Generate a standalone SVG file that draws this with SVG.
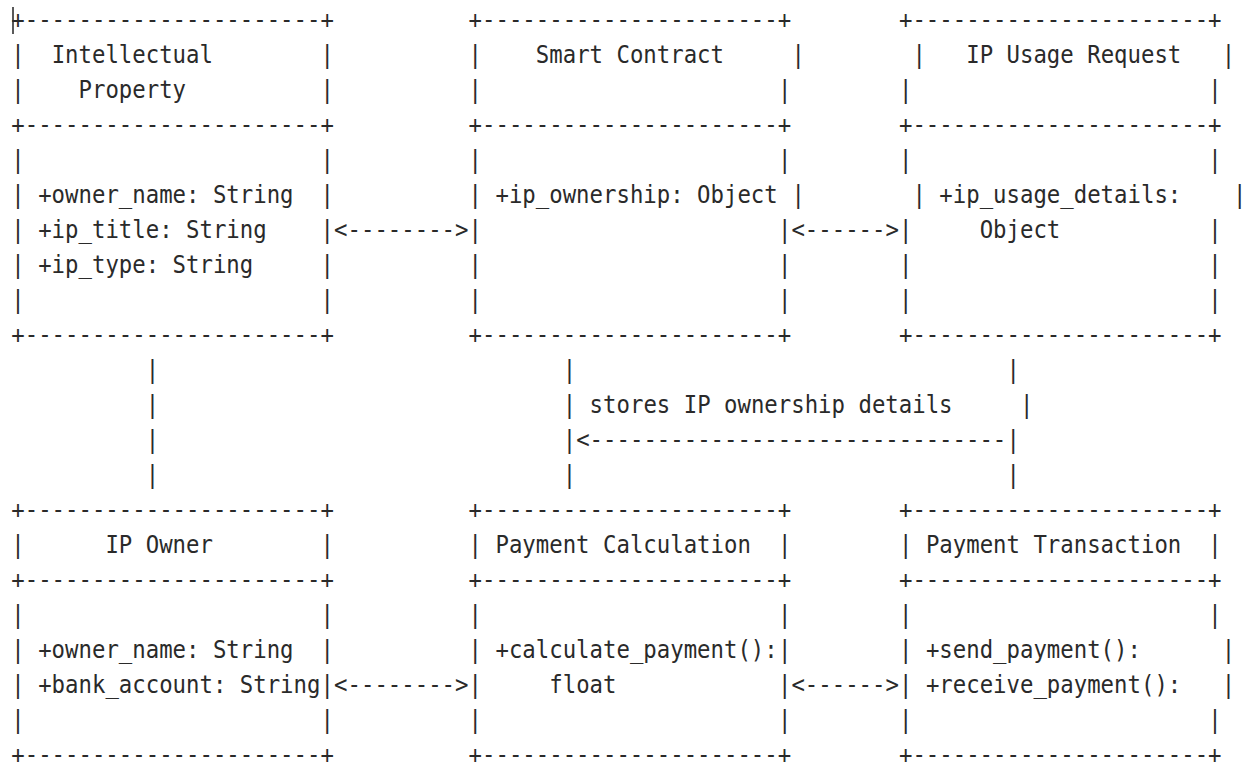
<svg xmlns="http://www.w3.org/2000/svg" width="1242" height="763" viewBox="0 0 1242 763">
<style>
.t{font-family:"DejaVu Sans Mono","Liberation Mono",monospace;font-size:22.34px;fill:#2a2a2a;}
</style>
<rect x="0" y="0" width="1242" height="763" fill="#ffffff"/>
<line x1="13" y1="7" x2="13" y2="34" stroke="#222" stroke-width="1.5"/>
<g transform="scale(1,1.12)">
<g id="intellectual-property">
<text class="t" y="25.18" x="11.28">+----------------------+</text>
<text class="t" y="56.41"><tspan x="11.28">|</tspan><tspan x="51.63">Intellectual</tspan><tspan x="320.63">|</tspan></text>
<text class="t" y="87.64"><tspan x="11.28">|</tspan><tspan x="78.53">Property</tspan><tspan x="320.63">|</tspan></text>
<text class="t" y="118.88" x="11.28">+----------------------+</text>
<text class="t" y="150.11"><tspan x="11.28">|</tspan><tspan x="320.63">|</tspan></text>
<text class="t" y="181.34"><tspan x="11.28">|</tspan><tspan x="38.18">+owner_name: String</tspan><tspan x="320.63">|</tspan></text>
<text class="t" y="212.57"><tspan x="11.28">|</tspan><tspan x="38.18">+ip_title: String</tspan><tspan x="320.63">|</tspan></text>
<text class="t" y="243.80"><tspan x="11.28">|</tspan><tspan x="38.18">+ip_type: String</tspan><tspan x="320.63">|</tspan></text>
<text class="t" y="275.04"><tspan x="11.28">|</tspan><tspan x="320.63">|</tspan></text>
<text class="t" y="306.27" x="11.28">+----------------------+</text>
</g>
<g id="smart-contract">
<text class="t" y="25.18" x="468.58">+----------------------+</text>
<text class="t" y="56.41"><tspan x="468.58">|</tspan><tspan x="535.83">Smart Contract</tspan><tspan x="791.38">|</tspan></text>
<text class="t" y="87.64"><tspan x="468.58">|</tspan><tspan x="777.93">|</tspan></text>
<text class="t" y="118.88" x="468.58">+----------------------+</text>
<text class="t" y="150.11"><tspan x="468.58">|</tspan><tspan x="777.93">|</tspan></text>
<text class="t" y="181.34"><tspan x="468.58">|</tspan><tspan x="495.48">+ip_ownership: Object</tspan><tspan x="791.38">|</tspan></text>
<text class="t" y="212.57"><tspan x="468.58">|</tspan><tspan x="777.93">|</tspan></text>
<text class="t" y="243.80"><tspan x="468.58">|</tspan><tspan x="777.93">|</tspan></text>
<text class="t" y="275.04"><tspan x="468.58">|</tspan><tspan x="777.93">|</tspan></text>
<text class="t" y="306.27" x="468.58">+----------------------+</text>
</g>
<g id="ip-usage-request">
<text class="t" y="25.18" x="898.98">+----------------------+</text>
<text class="t" y="56.41"><tspan x="912.43">|</tspan><tspan x="966.23">IP Usage Request</tspan><tspan x="1221.78">|</tspan></text>
<text class="t" y="87.64"><tspan x="898.98">|</tspan><tspan x="1208.33">|</tspan></text>
<text class="t" y="118.88" x="898.98">+----------------------+</text>
<text class="t" y="150.11"><tspan x="898.98">|</tspan><tspan x="1208.33">|</tspan></text>
<text class="t" y="181.34"><tspan x="912.43">|</tspan><tspan x="939.33">+ip_usage_details:</tspan><tspan x="1233">|</tspan></text>
<text class="t" y="212.57"><tspan x="898.98">|</tspan><tspan x="979.68">Object</tspan><tspan x="1208.33">|</tspan></text>
<text class="t" y="243.80"><tspan x="898.98">|</tspan><tspan x="1208.33">|</tspan></text>
<text class="t" y="275.04"><tspan x="898.98">|</tspan><tspan x="1208.33">|</tspan></text>
<text class="t" y="306.27" x="898.98">+----------------------+</text>
</g>
<g id="ip-owner">
<text class="t" y="462.43" x="11.28">+----------------------+</text>
<text class="t" y="493.66"><tspan x="11.28">|</tspan><tspan x="105.43">IP Owner</tspan><tspan x="320.63">|</tspan></text>
<text class="t" y="524.89" x="11.28">+----------------------+</text>
<text class="t" y="556.13"><tspan x="11.28">|</tspan><tspan x="320.63">|</tspan></text>
<text class="t" y="587.36"><tspan x="11.28">|</tspan><tspan x="38.18">+owner_name: String</tspan><tspan x="320.63">|</tspan></text>
<text class="t" y="618.59"><tspan x="11.28">|</tspan><tspan x="38.18">+bank_account: String</tspan><tspan x="320.63">|</tspan></text>
<text class="t" y="649.82"><tspan x="11.28">|</tspan><tspan x="320.63">|</tspan></text>
<text class="t" y="681.05" x="11.28">+----------------------+</text>
</g>
<g id="payment-calculation">
<text class="t" y="462.43" x="468.58">+----------------------+</text>
<text class="t" y="493.66"><tspan x="468.58">|</tspan><tspan x="495.48">Payment Calculation</tspan><tspan x="777.93">|</tspan></text>
<text class="t" y="524.89" x="468.58">+----------------------+</text>
<text class="t" y="556.13"><tspan x="468.58">|</tspan><tspan x="777.93">|</tspan></text>
<text class="t" y="587.36"><tspan x="468.58">|</tspan><tspan x="495.48">+calculate_payment():</tspan><tspan x="777.93">|</tspan></text>
<text class="t" y="618.59"><tspan x="468.58">|</tspan><tspan x="549.28">float</tspan><tspan x="777.93">|</tspan></text>
<text class="t" y="649.82"><tspan x="468.58">|</tspan><tspan x="777.93">|</tspan></text>
<text class="t" y="681.05" x="468.58">+----------------------+</text>
</g>
<g id="payment-transaction">
<text class="t" y="462.43" x="898.98">+----------------------+</text>
<text class="t" y="493.66"><tspan x="898.98">|</tspan><tspan x="925.88">Payment Transaction</tspan><tspan x="1208.33">|</tspan></text>
<text class="t" y="524.89" x="898.98">+----------------------+</text>
<text class="t" y="556.13"><tspan x="898.98">|</tspan><tspan x="1208.33">|</tspan></text>
<text class="t" y="587.36"><tspan x="898.98">|</tspan><tspan x="925.88">+send_payment():</tspan><tspan x="1221.78">|</tspan></text>
<text class="t" y="618.59"><tspan x="898.98">|</tspan><tspan x="925.88">+receive_payment():</tspan><tspan x="1221.78">|</tspan></text>
<text class="t" y="649.82"><tspan x="898.98">|</tspan><tspan x="1208.33">|</tspan></text>
<text class="t" y="681.05" x="898.98">+----------------------+</text>
</g>
<g id="connectors">
<text class="t" y="212.57" x="334.08">&lt;--------&gt;</text>
<text class="t" y="212.57" x="791.38">&lt;------&gt;</text>
<text class="t" y="618.59" x="334.08">&lt;--------&gt;</text>
<text class="t" y="618.59" x="791.38">&lt;------&gt;</text>
<text class="t" y="337.50"><tspan x="145.78">|</tspan><tspan x="562.73">|</tspan><tspan x="1006.58">|</tspan></text>
<text class="t" y="368.73"><tspan x="145.78">|</tspan><tspan x="562.73">|</tspan><tspan x="589.63">stores IP ownership details</tspan><tspan x="1020.03">|</tspan></text>
<text class="t" y="399.96"><tspan x="145.78">|</tspan><tspan x="562.73">|</tspan><tspan x="576.18">&lt;-------------------------------</tspan><tspan x="1006.58">|</tspan></text>
<text class="t" y="431.20"><tspan x="145.78">|</tspan><tspan x="562.73">|</tspan><tspan x="1006.58">|</tspan></text>
</g>
</g>
</svg>
